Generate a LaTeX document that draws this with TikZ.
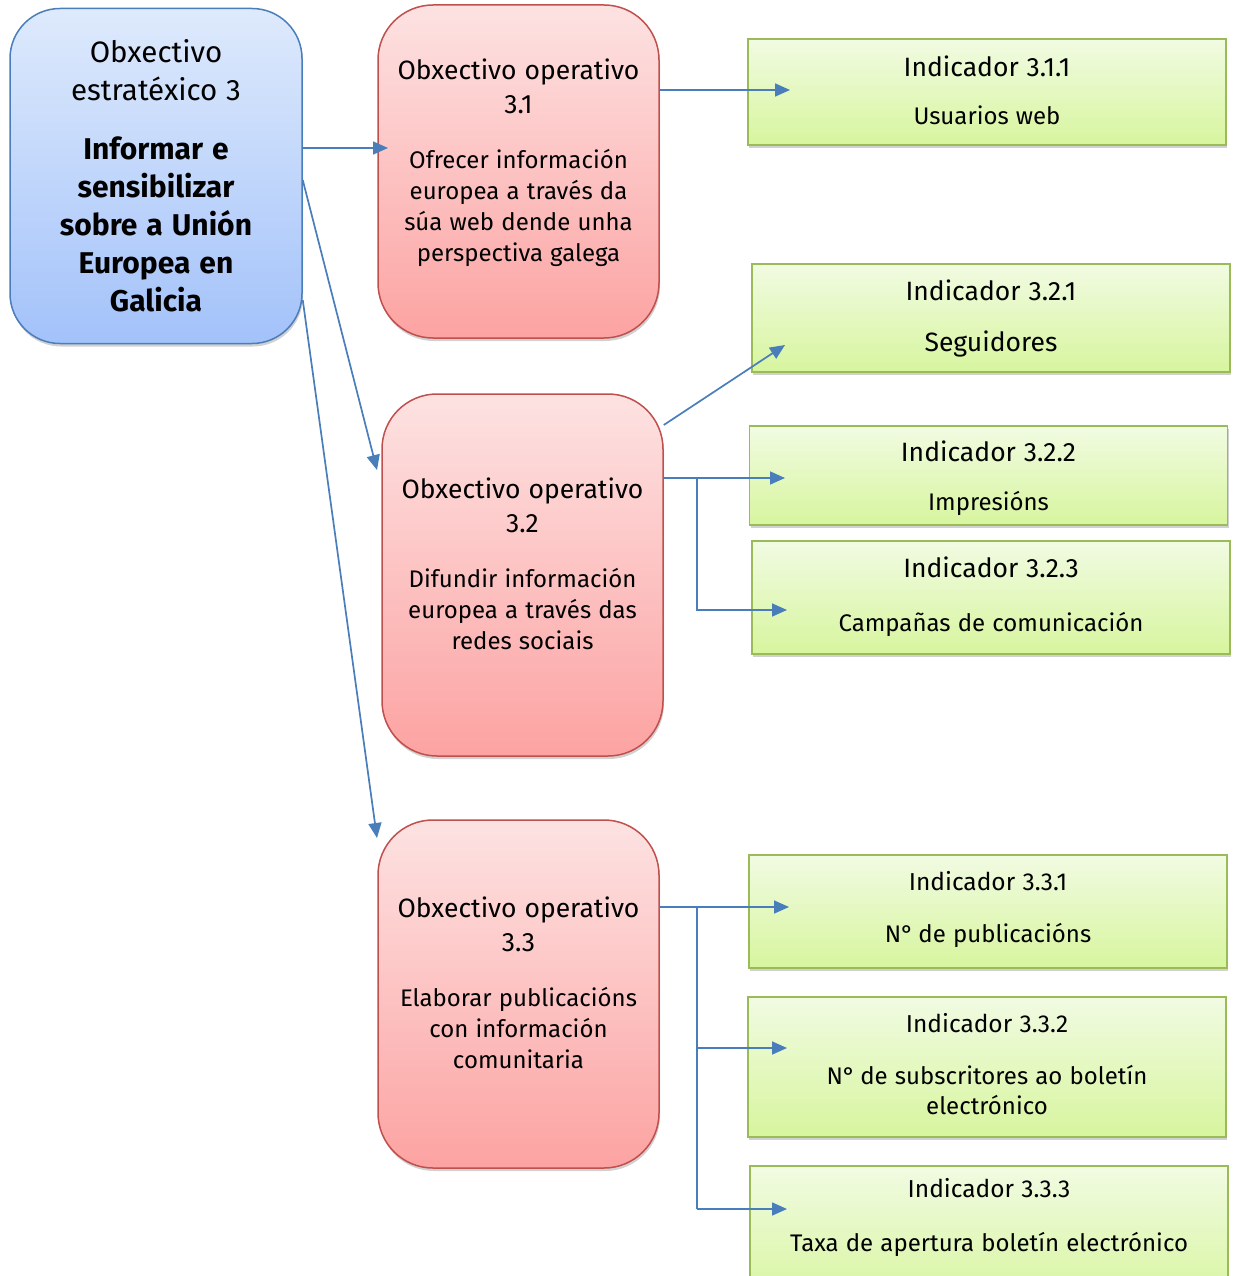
\documentclass[tikz,border=0pt]{standalone}
\usepackage{fontspec}
\setmainfont{Fira Sans}
\newcommand\myfs[2]{\fontsize{#1}{#2}\selectfont\spaceskip=0.3em\relax}
\usetikzlibrary{arrows.meta,shadows,calc}
\definecolor{bluebd}{RGB}{74,126,187}
\definecolor{bluetop}{RGB}{222,234,252}
\definecolor{bluebot}{RGB}{163,194,250}
\definecolor{redbd}{RGB}{192,80,77}
\definecolor{redtop}{RGB}{253,226,226}
\definecolor{redbot}{RGB}{252,163,162}
\definecolor{grbd}{RGB}{155,187,89}
\definecolor{grtop}{RGB}{241,251,226}
\definecolor{grbot}{RGB}{215,245,158}
\definecolor{arrc}{RGB}{74,126,187}
\begin{document}
\begin{tikzpicture}[x=1pt,y=-1pt,
  box/.style={draw, line width=1.5pt, inner sep=0pt,
    drop shadow={shadow xshift=1pt, shadow yshift=-3pt, opacity=0.3, fill=black!60}},
  blueb/.style={box, draw=bluebd, top color=bluetop, bottom color=bluebot,
    rounded corners=50pt, minimum width=292pt, minimum height=335pt,
    text width=285pt, align=center},
  redb/.style={box, draw=redbd, top color=redtop, bottom color=redbot,
    rounded corners=55pt, minimum width=281pt},
  redtxt/.style={text width=278pt, align=center, inner sep=0pt},
  greenb/.style={box, draw=grbd, top color=grtop, bottom color=grbot,
    minimum width=478pt},
  gtxt/.style={text width=470pt, align=center, inner sep=0pt},
  conn/.style={draw=arrc, line width=1.7pt, -{Triangle[length=15pt,width=13pt]}},
  plain/.style={draw=arrc, line width=1.7pt}
]
\useasboundingbox (0,0) rectangle (1233,1276);
\clip (0,0) rectangle (1233,1276);

% strategic objective
\node[blueb] (blue) at (156,176) {\myfs{29.5}{38}Obxectivo\\estratéxico 3\par\vspace{21pt}\bfseries\myfs{30}{38}Informar e\\sensibilizar\\sobre a Unión\\Europea en\\Galicia\par};

% operative objectives
\node[redb, minimum height=333pt] (red1) at (518.5,171.5) {};
\node[redtxt] (red1t) at (518.5,163) {\myfs{26.5}{34}Obxectivo operativo\\3.1\par\vspace{24pt}\myfs{24}{31}Ofrecer información\\europea a través da\\súa web dende unha\\perspectiva galega\par};

\node[redb, minimum height=362pt] (red2) at (522.5,575) {};
\node[redtxt] (red2t) at (522.5,564) {\myfs{26.5}{34}Obxectivo operativo\\3.2\par\vspace{24pt}\myfs{24}{31}Difundir información\\europea a través das\\redes sociais\par};

\node[redb, minimum height=348pt] (red3) at (518.5,994) {};
\node[redtxt] (red3t) at (518.5,983) {\myfs{26.5}{34}Obxectivo operativo\\3.3\par\vspace{24pt}\myfs{24}{31}Elaborar publicacións\\con información\\comunitaria\par};

% indicators
\node[greenb, minimum height=106pt] (g311) at (987,92) {};
\node[gtxt] (g311t) at (987,90) {\myfs{26.5}{30}Indicador 3.1.1\par\vspace{18pt}\myfs{24}{30}Usuarios web\par};
\node[greenb, minimum height=108pt] (g321) at (991,318) {};
\node[gtxt] (g321t) at (991,318) {\myfs{26.5}{30}Indicador 3.2.1\par\vspace{21pt}\myfs{26.5}{30}Seguidores\par};
\node[greenb, minimum height=99pt] (g322) at (988.5,475.5) {};
\node[gtxt] (g322t) at (988.5,478.5) {\myfs{26.5}{30}Indicador 3.2.2\par\vspace{19pt}\myfs{24}{30}Impresións\par};
\node[greenb, minimum height=113pt] (g323) at (991,597.5) {};
\node[gtxt] (g323t) at (991,597) {\myfs{26.5}{30}Indicador 3.2.3\par\vspace{24pt}\myfs{24}{30}Campañas de comunicación\par};
\node[greenb, minimum height=113pt] (g331) at (988,911.5) {};
\node[gtxt] (g331t) at (988,909.5) {\myfs{24.5}{30}Indicador 3.3.1\par\vspace{22pt}\myfs{24}{30}N°\hspace{0.2em}de publicacións\par};
\node[greenb, minimum height=140pt] (g332) at (987,1067) {};
\node[gtxt] (g332t) at (987,1064) {\myfs{24.5}{30}Indicador 3.3.2\par\vspace{22pt}\myfs{24}{30}N°\hspace{0.2em}de subscritores ao boletín\\electrónico\par};
\node[greenb, minimum height=140pt] (g333) at (989,1236) {};
\node[gtxt] (g333t) at (989,1217) {\myfs{24.5}{30}Indicador 3.3.3\par\vspace{24pt}\myfs{24}{30}Taxa de apertura boletín electrónico\par};

% coordinates for connector ends
\coordinate (s1) at (0,148);
\coordinate (t1) at (388,148);
\coordinate (s2) at (0,180);
\coordinate (t2) at (377,470);
\coordinate (s3) at (0,300);
\coordinate (t3) at (377,838);
\coordinate (t311) at (790,90);
\coordinate (s321) at (0,425);
\coordinate (t321) at (785,345);
\coordinate (j2) at (697,478);
\coordinate (t322) at (785,478);
\coordinate (t323) at (787,610);
\coordinate (j3) at (697,907);
\coordinate (t331) at (789,907);
\coordinate (t332) at (787,1048);
\coordinate (t333) at (787,1209);

% connectors
\draw[conn] (blue.east |- s1) -- (t1);
\draw[conn] (blue.east |- s2) -- (t2);
\draw[conn] (blue.east |- s3) -- (t3);
\draw[conn] (red1.east |- t311) -- (t311);
\draw[conn] (red2.east |- s321) -- (t321);
\draw[conn] (red2.east |- j2) -- (t322);
\draw[conn] (j2) |- (t323);
\draw[conn] (red3.east |- j3) -- (t331);
\draw[plain] (j3) -- (j3 |- t333);
\draw[conn] (j3 |- t332) -- (t332);
\draw[conn] (j3 |- t333) -- (t333);
\end{tikzpicture}
\end{document}
